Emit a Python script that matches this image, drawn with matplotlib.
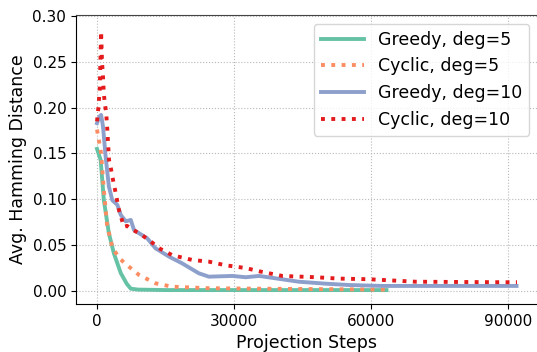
import matplotlib
matplotlib.use("Agg")
import matplotlib.pyplot as plt

# Greedy, deg=5
g5_x = [0, 800, 1500, 2600, 3700, 5200, 6500, 7400, 9000, 15000, 30000, 45000, 63400]
g5_y = [0.155, 0.143, 0.099, 0.063, 0.041, 0.0196, 0.008, 0.0025, 0.0015, 0.001, 0.001, 0.001, 0.001]

# Cyclic, deg=5
c5_x = [0, 400, 900, 1500, 2200, 3350, 4800, 7000, 9200, 12800, 16400, 24500, 35000, 50000, 63400]
c5_y = [0.176, 0.165, 0.150, 0.110, 0.072, 0.048, 0.036, 0.0265, 0.0175, 0.0084, 0.0047, 0.003, 0.0025, 0.002, 0.0015]

# Greedy, deg=10
g10_x = [0, 500, 900, 1300, 1900, 2600, 3350, 4450, 5200, 6300, 7400, 8100, 9200, 11000,
         12800, 15800, 18700, 22300, 24500, 29600, 32600, 35500, 38000, 44200, 50000,
         55200, 62400, 75000, 91900]
g10_y = [0.183, 0.190, 0.192, 0.180, 0.146, 0.114, 0.099, 0.094, 0.083, 0.076, 0.0775, 0.0665,
         0.063, 0.0575, 0.0466, 0.0374, 0.030, 0.0193, 0.0156, 0.0164, 0.015, 0.0164, 0.0146,
         0.0101, 0.008, 0.0065, 0.0055, 0.0055, 0.0055]

# Cyclic, deg=10
c10_x = [0, 300, 600, 900, 1100, 1300, 1500, 1700, 2000, 2260, 2630, 3000, 3350, 4090, 4820,
         5900, 6600, 7380, 9200, 11400, 13600, 16500, 20900, 24500, 28200, 32600, 35500, 40600,
         47900, 53000, 59600, 69800, 80000, 90900, 92000]
c10_y = [0.185, 0.200, 0.220, 0.283, 0.250, 0.235, 0.215, 0.205, 0.195, 0.176, 0.143, 0.135,
         0.125, 0.107, 0.088, 0.070, 0.071, 0.068, 0.063, 0.0556, 0.0466, 0.039, 0.0338, 0.032,
         0.028, 0.025, 0.0215, 0.0164, 0.015, 0.0135, 0.0128, 0.0101, 0.0098, 0.0095, 0.0095]

labels = ["Greedy, deg=5", "Cyclic, deg=5", "Greedy, deg=10", "Cyclic, deg=10"]
colors = ["#66c2a5", "#fc8d62", "#8da0cb", "#e41a1c"]

fig = plt.figure(figsize=(5.37, 3.52), dpi=100)
ax = fig.add_axes([76/537, 48/352, (538-76)/537, (304-15)/352])

ax.plot(g5_x, g5_y, color=colors[0], lw=2.8, ls="-", label=labels[0])
ax.plot(c5_x, c5_y, color=colors[1], lw=2.8, ls=":", label=labels[1])
ax.plot(g10_x, g10_y, color=colors[2], lw=2.8, ls="-", label=labels[2])
ax.plot(c10_x, c10_y, color=colors[3], lw=2.8, ls=":", label=labels[3])

ax.set_xlim(-4600, 96600)
ax.set_ylim(-0.0142, 0.301)
ax.set_xticks([0, 30000, 60000, 90000])
ax.set_yticks([0.00, 0.05, 0.10, 0.15, 0.20, 0.25, 0.30])
ax.set_yticklabels(["0.00", "0.05", "0.10", "0.15", "0.20", "0.25", "0.30"])
ax.tick_params(labelsize=11)
ax.grid(True, ls=":", color="#b8b8b8", lw=0.8)
ax.set_xlabel("Projection Steps", fontsize=12.5)
ax.set_ylabel("Avg. Hamming Distance", fontsize=12.5)
ax.spines["top"].set_color("#444444")
ax.legend(loc="upper right", fontsize=12.5, handlelength=2.5)

fig.savefig("out.png", dpi=100)
